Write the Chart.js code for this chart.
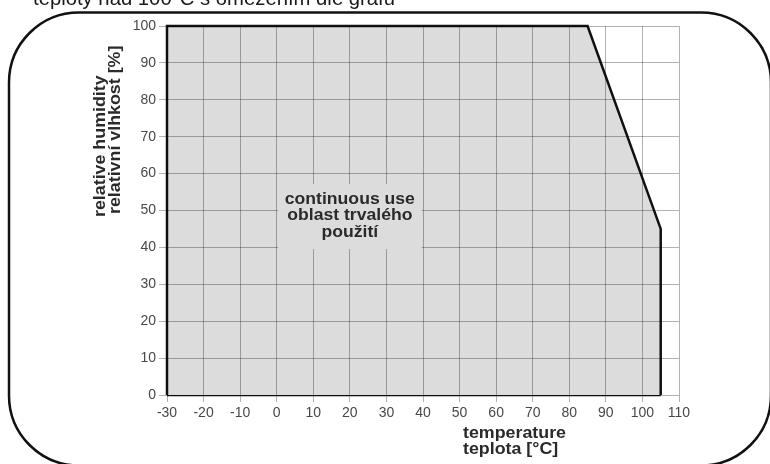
<!DOCTYPE html>
<html>
<head>
<meta charset="utf-8">
<script src="https://cdn.jsdelivr.net/npm/chart.js@4/dist/chart.umd.min.js"></script>
<style>
  html, body { margin: 0; padding: 0; background: #fff; }
  #box { width: 770px; height: 464px; position: relative; }
</style>
</head>
<body>
<div id="box"><canvas id="limits"></canvas></div>
<script>
// outline of the continuous-use area (x kept in rising order so the fill works)
var temperature = [-30, -30, 85, 105, 105];
var humidity = [0, 100, 100, 45, 0];
// bottom edge of the area
var baseTemperature = [-30, 105];
var baseHumidity = [0, 0];

var xRange = [-30, 110];
var yRange = [0, 100];

var areaLabel = ['continuous use', 'oblast trvalého', 'použití'];
var areaLabelAt = [20, 48.5];
var xTitle = ['temperature', 'teplota [°C]'];
var yTitle = ['relative humidity', 'relativní vlhkost [%]'];
var caption = 'teploty nad 100°C s omezením dle grafu';

var FONT = '"Liberation Sans", Arial, Helvetica, sans-serif';

function wideText(ctx, text, x, y, sx) {
    ctx.save();
    ctx.translate(x, y);
    ctx.scale(sx, 1);
    ctx.fillText(text, 0, 0);
    ctx.restore();
}

function toPoints(xs, ys) {
    return xs.map(function (t, i) { return { x: t, y: ys[i] }; });
}

var decor = {
    id: 'decor',
    beforeDraw: function (chart) {
        var ctx = chart.ctx;
        ctx.save();
        ctx.fillStyle = '#fff';
        ctx.fillRect(0, 0, chart.width, chart.height);
        ctx.restore();
    },
    afterDraw: function (chart) {
        var ctx = chart.ctx;
        var xs = chart.scales.x, ys = chart.scales.y;
        ctx.save();

        // cut-off caption above the frame
        ctx.fillStyle = '#1a1a1a';
        ctx.font = '20px ' + FONT;
        ctx.textAlign = 'left';
        ctx.textBaseline = 'alphabetic';
        var w = ctx.measureText(caption).width;
        wideText(ctx, caption, 33, 5, 362 / w);

        // rounded frame
        ctx.strokeStyle = '#111';
        ctx.lineWidth = 2.5;
        ctx.beginPath();
        ctx.roundRect(9, 12.5, 762, 453, 70);
        ctx.stroke();

        // label inside the area
        var cx = xs.getPixelForValue(areaLabelAt[0]);
        var cy = ys.getPixelForValue(areaLabelAt[1]);
        ctx.fillStyle = '#dcdcdc';
        ctx.fillRect(cx - 72, cy - 32, 144, 65);
        ctx.fillStyle = '#2a2a2a';
        ctx.font = 'bold 16px ' + FONT;
        ctx.textAlign = 'center';
        ctx.textBaseline = 'middle';
        areaLabel.forEach(function (t, i) {
            wideText(ctx, t, cx, cy + (i - 1) * 16.5, 1.1);
        });

        // axis titles
        ctx.font = 'bold 16.5px ' + FONT;
        ctx.textAlign = 'left';
        ctx.textBaseline = 'alphabetic';
        wideText(ctx, xTitle[0], 463, 438, 1.08);
        wideText(ctx, xTitle[1], 463, 454, 1.08);

        ctx.save();
        ctx.translate(105, 217);
        ctx.rotate(-Math.PI / 2);
        wideText(ctx, yTitle[0], 0, 0, 1.08);
        ctx.restore();
        ctx.save();
        ctx.translate(120, 214);
        ctx.rotate(-Math.PI / 2);
        wideText(ctx, yTitle[1], 0, 0, 1.08);
        ctx.restore();

        ctx.restore();
    }
};

new Chart(document.getElementById('limits'), {
    type: 'line',
    data: {
        datasets: [{
            data: toPoints(temperature, humidity),
            fill: 'origin',
            backgroundColor: '#dcdcdc',
            borderColor: '#111',
            borderWidth: 2.5,
            pointRadius: 0,
            tension: 0,
            clip: false
        }, {
            data: toPoints(baseTemperature, baseHumidity),
            fill: false,
            borderColor: '#111',
            borderWidth: 2.5,
            pointRadius: 0,
            clip: false
        }]
    },
    options: {
        responsive: true,
        maintainAspectRatio: false,
        animation: false,
        layout: { padding: { top: 26, right: 91, left: 0, bottom: 0 } },
        plugins: { legend: { display: false }, tooltip: { enabled: false } },
        scales: {
            x: {
                type: 'linear',
                min: xRange[0],
                max: xRange[1],
                afterFit: function (s) { s.height = 69; },
                border: { display: false },
                grid: { z: 1, color: 'rgba(0,0,0,0.3)', lineWidth: 1, tickLength: 7 },
                ticks: { stepSize: 10, padding: 3, color: '#484848', font: { family: FONT, size: 14 } }
            },
            y: {
                type: 'linear',
                min: yRange[0],
                max: yRange[1],
                afterFit: function (s) { s.width = 167; },
                border: { display: false },
                grid: { z: 1, color: 'rgba(0,0,0,0.3)', lineWidth: 1, tickLength: 8 },
                ticks: { stepSize: 10, padding: 3, color: '#484848', font: { family: FONT, size: 14 } }
            }
        }
    },
    plugins: [decor]
});
</script>
</body>
</html>
